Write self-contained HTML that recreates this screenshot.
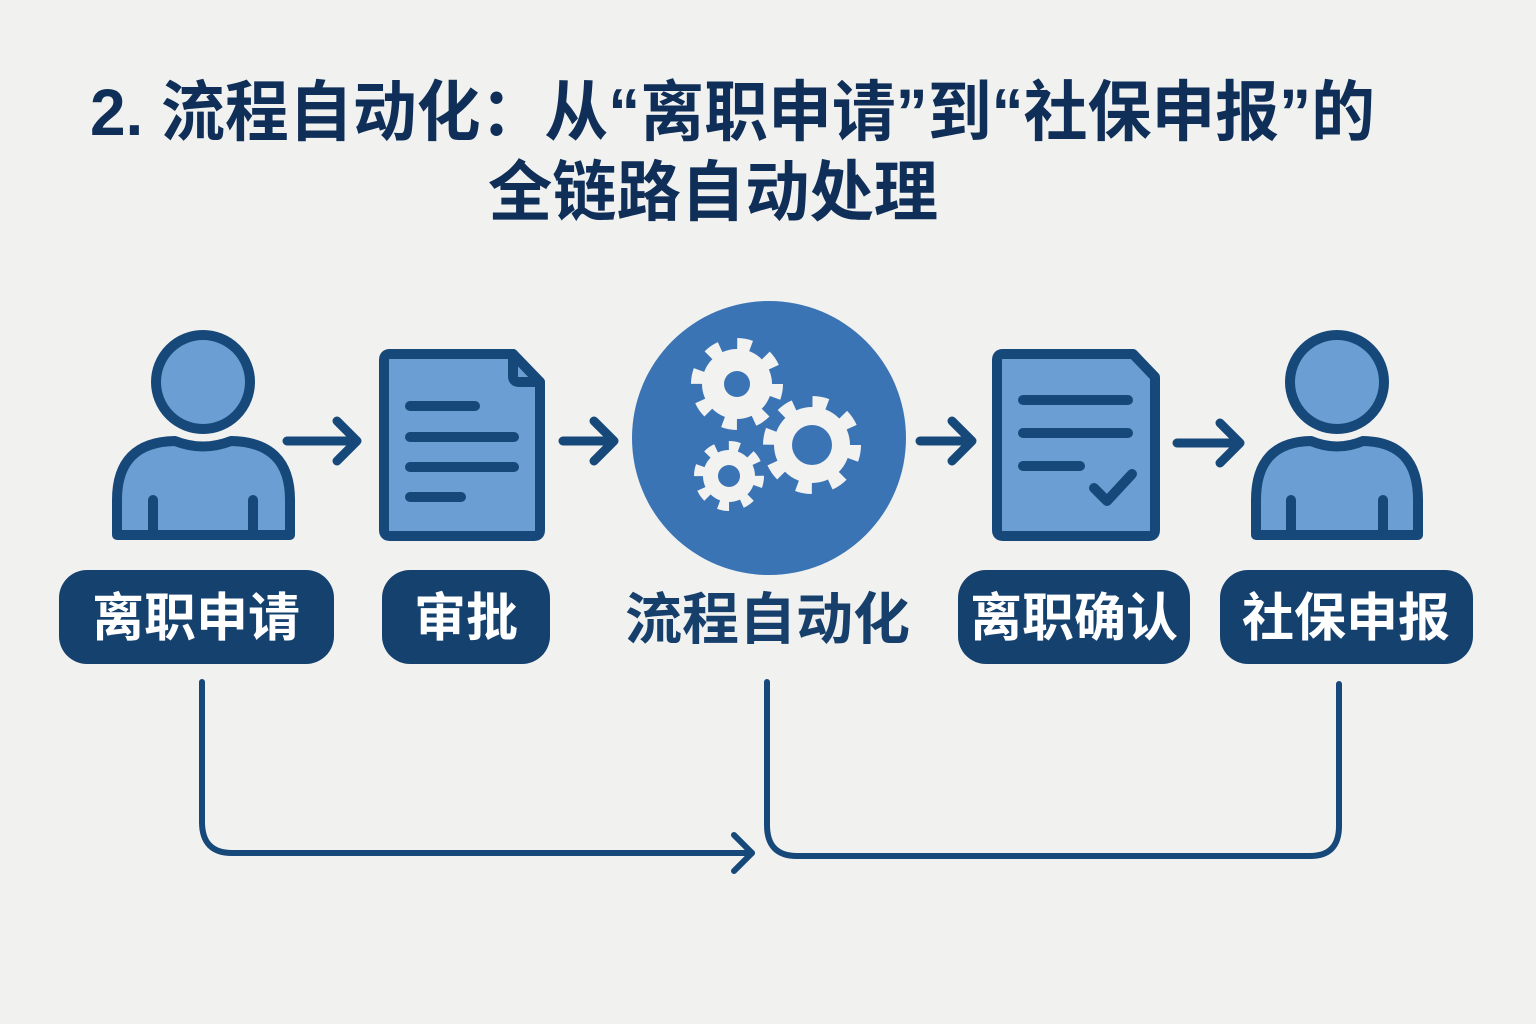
<!DOCTYPE html>
<html><head><meta charset="utf-8"><style>
html,body{margin:0;padding:0;background:#f1f1ef;}
svg{display:block}
text{font-family:"Liberation Sans","Noto Sans CJK SC",sans-serif;font-weight:bold}
</style></head><body>
<svg width="1536" height="1024" viewBox="0 0 1536 1024" xmlns="http://www.w3.org/2000/svg">
<rect width="1536" height="1024" fill="#f1f1ef"/>
<g fill="#0f2f58">
<text x="90" y="135" font-size="66" textLength="1285" lengthAdjust="spacingAndGlyphs">2. 流程自动化：从“离职申请”到“社保申报”的</text>
<text x="488" y="215" font-size="66" textLength="450" lengthAdjust="spacingAndGlyphs">全链路自动处理</text>
</g>
<g stroke="#16487a" stroke-width="10" fill="#6b9fd3" stroke-linejoin="round" stroke-linecap="round">
<circle cx="203" cy="382" r="47"/>
<path d="M117,535 L117,500 Q117,442 175,441 Q203,452 231,441 Q290,442 290,500 L290,535 Z"/>
<line x1="153" y1="500" x2="153" y2="535"/><line x1="253" y1="500" x2="253" y2="535"/>
<path d="M384,360 Q384,354 390,354 L513,354 L540,382 L540,530 Q540,536 534,536 L390,536 Q384,536 384,530 Z"/>
<path d="M513,354 L513,376 Q513,382 519,382 L540,382" fill="none"/>
<line x1="410" y1="406" x2="475" y2="406"/><line x1="410" y1="437" x2="514" y2="437"/>
<line x1="410" y1="467" x2="514" y2="467"/><line x1="410" y1="497" x2="461" y2="497"/>
<path d="M997,360 Q997,354 1003,354 L1133,354 L1155,377 L1155,530 Q1155,536 1149,536 L1003,536 Q997,536 997,530 Z"/>
<line x1="1023" y1="400" x2="1128" y2="400"/><line x1="1023" y1="433" x2="1128" y2="433"/>
<line x1="1023" y1="466" x2="1080" y2="466"/>
<path d="M1094,488 L1107,501 L1132,474" fill="none"/>
<circle cx="1337" cy="382" r="47"/>
<path d="M1256,535 L1256,500 Q1256,442 1311,441 Q1337,452 1363,441 Q1418,442 1418,500 L1418,535 Z"/>
<line x1="1291" y1="500" x2="1291" y2="535"/><line x1="1383" y1="500" x2="1383" y2="535"/>
</g>
<g stroke="#16487a" stroke-width="9" fill="none" stroke-linecap="round" stroke-linejoin="round">
<path d="M287,441 L356,441 M337,421 L357,441 L337,461"/>
<path d="M563,441 L612,441 M594,421 L614,441 L594,461"/>
<path d="M920,441 L970,441 M952,421 L972,441 L952,461"/>
<path d="M1177,443 L1238,443 M1220,423 L1240,443 L1220,463"/>
</g>
<circle cx="769" cy="438" r="137" fill="#3a74b5"/>
<g fill="#f2f2f0">
<circle cx="737" cy="384" r="35"/>
<circle cx="737" cy="384" r="40" fill="none" stroke="#f2f2f0" stroke-width="12" stroke-dasharray="14 17.4"/>
<circle cx="812" cy="445" r="38"/>
<circle cx="812" cy="445" r="43" fill="none" stroke="#f2f2f0" stroke-width="12" stroke-dasharray="15 18.8"/>
<circle cx="729" cy="476" r="26"/>
<circle cx="729" cy="476" r="30" fill="none" stroke="#f2f2f0" stroke-width="10" stroke-dasharray="10.5 13"/>
</g>
<g fill="#3a74b5">
<circle cx="737" cy="384" r="13"/><circle cx="812" cy="445" r="20"/><circle cx="729" cy="476" r="11"/>
</g>
<g fill="#15416f">
<rect x="59" y="570" width="275" height="94" rx="28"/>
<rect x="382" y="570" width="168" height="94" rx="28"/>
<rect x="958" y="570" width="232" height="94" rx="28"/>
<rect x="1220" y="570" width="253" height="94" rx="28"/>
</g>
<g fill="#ffffff" font-size="52" text-anchor="middle">
<text x="196" y="636">离职申请</text>
<text x="466" y="636">审批</text>
<text x="1074" y="636">离职确认</text>
<text x="1346" y="636">社保申报</text>
</g>
<text x="625" y="639" font-size="56" textLength="285" lengthAdjust="spacingAndGlyphs" fill="#163f6c">流程自动化</text>
<g stroke="#16487a" stroke-width="6" fill="none" stroke-linecap="round" stroke-linejoin="round">
<path d="M202,682 L202,822 Q202,853 232,853 L752,853"/>
<path d="M734,835 L752,853 L734,871"/>
<path d="M767,682 L767,825 Q767,856 797,856 L1310,856 Q1339,856 1339,826 L1339,684"/>
</g>
</svg>
</body></html>
